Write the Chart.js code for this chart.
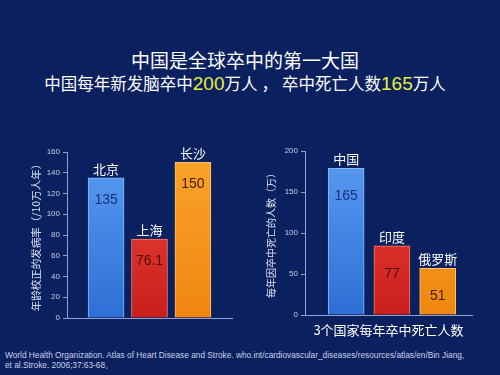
<!DOCTYPE html>
<html>
<head>
<meta charset="utf-8">
<script src="https://cdn.jsdelivr.net/npm/chart.js@4/dist/chart.umd.min.js"></script>
<style>
  html, body { margin: 0; padding: 0; }
  body {
    width: 500px; height: 375px; position: relative; overflow: hidden;
    background: #0b205e;
    font-family: "Noto Sans CJK SC", sans-serif;
    color: #fff;
  }
  #title1 { position: absolute; left: 0; width: 490px; top: 47px; text-align: center; font-size: 19px; line-height: 26px; }
  #title2 { position: absolute; left: 0; width: 490px; top: 71px; text-align: center; font-size: 16.5px; line-height: 24px; }
  #title2 .num { color: #e6ef3c; font-family: "Liberation Sans", Arial, sans-serif; font-size: 19px; }
  #title2 .sep { margin: 0 4px; }
  #note {
    position: absolute; left: 5px; top: 350px; font-family: "Liberation Sans", Arial, sans-serif;
    font-size: 8.3px; line-height: 10px; color: #c9d2ea; white-space: nowrap;
  }
  .box { position: absolute; }
  #c1box { left: 0; top: 130px; width: 250px; height: 200px; }
  #c2box { left: 250px; top: 130px; width: 250px; height: 215px; }
</style>
</head>
<body>
<div id="title1">中国是全球卒中的第一大国</div>
<div id="title2">中国每年新发脑卒中<span class="num">200</span>万人<span class="sep">，</span>卒中死亡人数<span class="num">165</span>万人</div>
<div class="box" id="c1box"><canvas id="c1" width="250" height="200"></canvas></div>
<div class="box" id="c2box"><canvas id="c2" width="250" height="215"></canvas></div>
<div id="note">World Health Organization. Atlas of Heart Disease and Stroke. who.int/cardiovascular_diseases/resources/atlas/en/Bin Jiang,<br>et al.Stroke. 2006;37:63-68。</div>
<script>
// left chart: incidence by city
const cities = ["北京", "上海", "长沙"];
const incidence = [135, 76.1, 150];
const incidenceLabels = ["135", "76.1", "150"];

// right chart: stroke deaths by country (bar heights as drawn, labels as printed)
const countries = ["中国", "印度", "俄罗斯"];
const deathBars = [179, 84.5, 57];
const deathLabels = ["165", "77", "51"];

const axisColor = "#8ea2cf";
const tickColor = "#c8d0e6";
const barColors = [
  ["#5a9cf2", "#2e6fd6", "#86b8f7"],
  ["#f0473c", "#c81f1b", "#f57a70"],
  ["#fba42a", "#f08610", "#fcc46a"],
];
const textColors = ["#1b2f7e", "#4d0d0a", "#3c1c06"];

function fill(ctx) {
  const c = barColors[ctx.dataIndex];
  const area = ctx.chart.chartArea;
  if (!area) return c[0];
  const g = ctx.chart.ctx.createLinearGradient(0, area.top, 0, area.bottom);
  g.addColorStop(0, c[0]);
  g.addColorStop(1, c[1]);
  return g;
}

const barLabels = {
  id: "barLabels",
  afterDatasetsDraw(chart, args, opts) {
    const ctx = chart.ctx;
    const meta = chart.getDatasetMeta(0);
    ctx.save();
    ctx.textAlign = "center";
    ctx.textBaseline = "middle";
    meta.data.forEach((bar, i) => {
      ctx.fillStyle = "#ffffff";
      ctx.font = '13px "Noto Sans CJK SC"';
      ctx.fillText(opts.names[i], bar.x, bar.y - 9);
      ctx.fillStyle = textColors[i];
      ctx.font = '14px "Liberation Sans", Arial';
      ctx.fillText(opts.values[i], bar.x, bar.y + opts.inset);
    });
    ctx.restore();
  },
};

function makeChart(id, names, values, labels, o) {
  return new Chart(document.getElementById(id), {
    type: "bar",
    data: {
      datasets: [{
        data: values.map((v, i) => ({ x: i + 1, y: v })),
        backgroundColor: fill,
        borderColor: (ctx) => barColors[ctx.dataIndex][2],
        borderWidth: 1,
        barThickness: 36,
      }],
    },
    plugins: [barLabels],
    options: {
      responsive: false,
      animation: false,
      layout: { padding: { top: o.top, right: o.right, left: 0, bottom: 0 } },
      plugins: {
        legend: { display: false },
        tooltip: { enabled: false },
        barLabels: { names, values: labels, inset: o.inset },
      },
      scales: {
        x: {
          type: "linear",
          offset: false,
          min: o.xmin,
          max: o.xmax,
          ticks: { display: false },
          grid: { drawOnChartArea: false, drawTicks: false },
          border: { color: axisColor, width: 1 },
          title: {
            display: !!o.xTitle,
            text: o.xTitle,
            color: "#ffffff",
            font: { family: "Noto Sans CJK SC", size: 13 },
            padding: { top: 0, bottom: 7 },
          },
          afterFit: (axis) => { axis.height = o.xHeight; },
        },
        y: {
          min: 0,
          max: o.ymax,
          ticks: {
            stepSize: o.step,
            color: tickColor,
            padding: 3,
            font: { family: "Liberation Sans", size: 8 },
          },
          grid: { drawOnChartArea: false, drawTicks: true, tickLength: 4, color: axisColor },
          border: { color: axisColor, width: 1 },
          title: {
            display: true,
            text: o.yTitle,
            color: "#dbe1f0",
            font: { family: "Noto Sans CJK SC", size: o.yTitleSize },
            padding: { top: o.yTitlePad, bottom: 0 },
          },
          afterFit: (axis) => { axis.width = o.yWidth; },
        },
      },
    },
  });
}

makeChart("c1", cities, incidence, incidenceLabels, {
  top: 22, right: 18, xmin: 0.1, xmax: 3.9, xHeight: 12, ymax: 160, step: 20,
  yTitle: "年龄校正的发病率（/10万人年）", yTitleSize: 10.5, yTitlePad: 30, yWidth: 67, inset: 22,
});
makeChart("c2", countries, deathBars, deathLabels, {
  top: 21, right: 28, xmin: 0.1, xmax: 3.75, xHeight: 30, ymax: 200, step: 50,
  xTitle: "3个国家每年卒中死亡人数",
  yTitle: "每年因卒中死亡的人数（万）", yTitleSize: 10, yTitlePad: 15, yWidth: 55, inset: 28,
});
</script>
</body>
</html>
